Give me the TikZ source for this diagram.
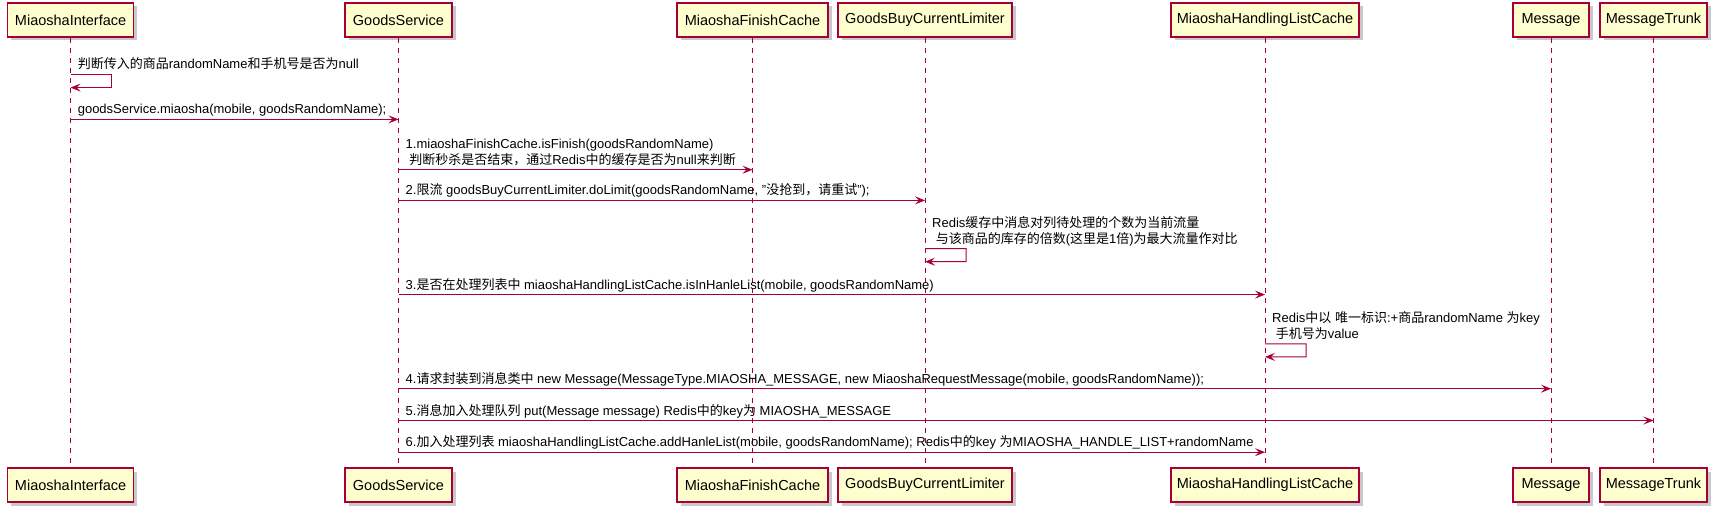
\documentclass[tikz,border=0pt]{standalone}
\usepackage{fontspec}
\setmainfont{Liberation Sans}
\newfontfamily\cjkfont{Noto Sans CJK SC}
\newcommand{\zh}[1]{{\cjkfont #1}}
\usetikzlibrary{arrows.meta,shadows}
\definecolor{pred}{HTML}{A80036}
\definecolor{pfill}{HTML}{FEFECE}
\tikzset{
  part/.style={draw=pred, line width=1.5pt, fill=pfill, minimum height=34pt, inner sep=0pt,
    font=\fontsize{14.5}{16}\selectfont,
    drop shadow={shadow xshift=3.5pt, shadow yshift=-3.5pt, opacity=0.3, fill=black!70}},
  life/.style={draw=pred, line width=1pt, dash pattern=on 5pt off 5pt},
  msg/.style={draw=pred, line width=1pt, -{Stealth[length=10pt,width=8pt,inset=4pt]}},
  lbl/.style={anchor=base west, inner sep=0pt, font=\fontsize{13}{15.5}\selectfont, align=left}
}
\begin{document}
\begin{tikzpicture}[x=1pt,y=-1pt]
\useasboundingbox (0,0) rectangle (1717,513);
% participants
\node[part, minimum width=126pt] (miT) at (70.6,20) {MiaoshaInterface};
\node[part, minimum width=107pt] (gsT) at (398.5,20) {GoodsService};
\node[part, minimum width=151pt] (mfT) at (752.5,20) {MiaoshaFinishCache};
\node[part, minimum width=174pt] (glT) at (925,20) {GoodsBuyCurrentLimiter};
\node[part, minimum width=188pt] (mhT) at (1265,20) {MiaoshaHandlingListCache};
\node[part, minimum width=76pt] (msT) at (1551,20) {Message};
\node[part, minimum width=107pt] (mtT) at (1653.5,20) {MessageTrunk};
\node[part, minimum width=126pt] (miB) at (70.6,485) {MiaoshaInterface};
\node[part, minimum width=107pt] (gsB) at (398.5,485) {GoodsService};
\node[part, minimum width=151pt] (mfB) at (752.5,485) {MiaoshaFinishCache};
\node[part, minimum width=174pt] (glB) at (925,485) {GoodsBuyCurrentLimiter};
\node[part, minimum width=188pt] (mhB) at (1265,485) {MiaoshaHandlingListCache};
\node[part, minimum width=76pt] (msB) at (1551,485) {Message};
\node[part, minimum width=107pt] (mtB) at (1653.5,485) {MessageTrunk};
% lifelines
\draw[life] (miT) -- (miB);
\draw[life] (gsT) -- (gsB);
\draw[life] (mfT) -- (mfB);
\draw[life] (glT) -- (glB);
\draw[life] (mhT) -- (mhB);
\draw[life] (msT) -- (msB);
\draw[life] (mtT) -- (mtB);
% 1 self
\node[lbl] (t1) at ([xshift=7pt]miT.center |- 0,69) {\zh{判断传入的商品}randomName\zh{和手机号是否为}null};
\draw[msg] (miT.center |- 0,74.5) -- ++(41,0) -- ++(0,13.1) -- (miT.center |- 0,87.6);
% 2
\node[lbl] (t2) at ([xshift=7pt]miT.center |- 0,114) {goodsService.miaosha(mobile, goodsRandomName);};
\draw[msg] (miT.center |- 0,119.4) -- (gsT.center |- 0,119.4);
% 3
\node[lbl] (t3) at ([xshift=7pt]gsT.center |- 0,164.2) {1.miaoshaFinishCache.isFinish(goodsRandomName)\\\hspace*{3.6pt}\zh{判断秒杀是否结束，通过}Redis\zh{中的缓存是否为}null\zh{来判断}};
\draw[msg] (gsT.center |- 0,169.7) -- (mfT.center |- 0,169.7);
% 4
\node[lbl] (t4) at ([xshift=7pt]gsT.center |- 0,195) {2.\zh{限流} goodsBuyCurrentLimiter.doLimit(goodsRandomName, "\zh{没抢到，请重试}");};
\draw[msg] (gsT.center |- 0,200.4) -- (glT.center |- 0,200.4);
% 5 self
\node[lbl] (t5) at ([xshift=7pt]glT.center |- 0,243.1) {Redis\zh{缓存中消息对列待处理的个数为当前流量}\\\hspace*{3.6pt}\zh{与该商品的库存的倍数}(\zh{这里是}1\zh{倍})\zh{为最大流量作对比}};
\draw[msg] (glT.center |- 0,248.6) -- ++(41,0) -- ++(0,13.1) -- (glT.center |- 0,261.7);
% 6
\node[lbl] (t6) at ([xshift=7pt]gsT.center |- 0,289.2) {3.\zh{是否在处理列表中} miaoshaHandlingListCache.isInHanleList(mobile, goodsRandomName)};
\draw[msg] (gsT.center |- 0,294.6) -- (mhT.center |- 0,294.6);
% 7 self
\node[lbl] (t7) at ([xshift=7pt]mhT.center |- 0,338.3) {Redis\zh{中以} \zh{唯一标识}:+\zh{商品}randomName \zh{为}key\\\hspace*{3.6pt}\zh{手机号为}value};
\draw[msg] (mhT.center |- 0,343.8) -- ++(41,0) -- ++(0,13.1) -- (mhT.center |- 0,356.9);
% 8
\node[lbl] (t8) at ([xshift=7pt]gsT.center |- 0,383.3) {4.\zh{请求封装到消息类中} new Message(MessageType.MIAOSHA\_MESSAGE, new MiaoshaRequestMessage(mobile, goodsRandomName));};
\draw[msg] (gsT.center |- 0,388.7) -- (msT.center |- 0,388.7);
% 9
\node[lbl] (t9) at ([xshift=7pt]gsT.center |- 0,415.1) {5.\zh{消息加入处理队列} put(Message message) Redis\zh{中的}key\zh{为} MIAOSHA\_MESSAGE};
\draw[msg] (gsT.center |- 0,420.5) -- (mtT.center |- 0,420.5);
% 10
\node[lbl] (t10) at ([xshift=7pt]gsT.center |- 0,446.8) {6.\zh{加入处理列表} miaoshaHandlingListCache.addHanleList(mobile, goodsRandomName); Redis\zh{中的}key \zh{为}MIAOSHA\_HANDLE\_LIST+randomName};
\draw[msg] (gsT.center |- 0,452.2) -- (mhT.center |- 0,452.2);
\end{tikzpicture}
\end{document}
